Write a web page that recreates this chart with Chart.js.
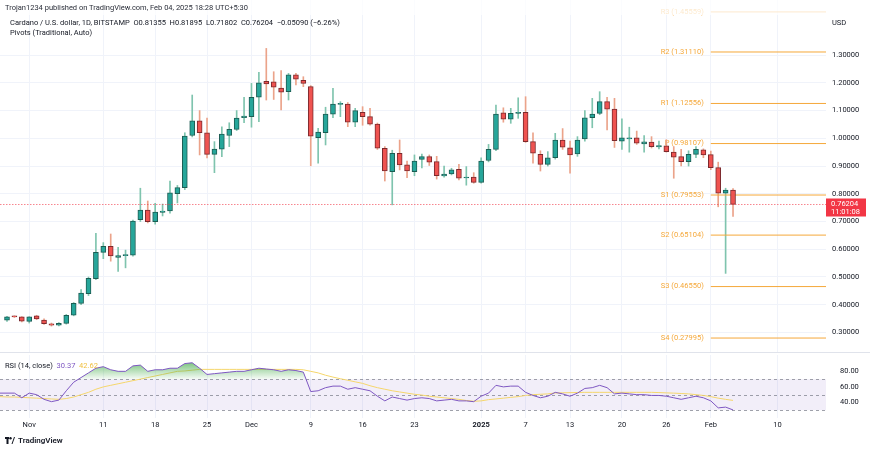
<!DOCTYPE html>
<html>
<head>
<meta charset="utf-8">
<script src="https://cdn.jsdelivr.net/npm/chart.js@4.4.1/dist/chart.umd.min.js"></script>
<style>
  html, body { margin: 0; padding: 0; background: #fff; }
  body { width: 870px; height: 451px; position: relative; overflow: hidden;
         font-family: Roboto, "Noto Sans", sans-serif; color: #131722; }
  canvas { position: absolute; left: 0; }
  #mainChart { top: 0; }
  #rsiChart { top: 352px; }
  .txt { position: absolute; white-space: nowrap; font-size: 7.5px; line-height: 9px; }
  #sep { position: absolute; left: 0; top: 352px; width: 870px; height: 1px; background: #e0e3eb; }
  #veil { position: absolute; left: 0; top: 0; width: 870px; height: 15px; background: rgba(255,255,255,0.75); }
  #logo { position: absolute; left: 5px; top: 436px; font-size: 8px; font-weight: 600; display: flex; align-items: center; gap: 3px; }
</style>
</head>
<body>
<canvas id="mainChart" width="870" height="352"></canvas>
<canvas id="rsiChart" width="870" height="84"></canvas>
<div id="sep"></div>
<div id="veil"></div>

<div class="txt" style="left:5px; top:3px; color:#2a2e39;">Trojan1234 published on TradingView.com, Feb 04, 2025 18:28 UTC+5:30</div>
<div class="txt" style="left:10px; top:18px;">Cardano / U.S. dollar, 1D, BITSTAMP&nbsp; O0.81355&nbsp; H0.81895&nbsp; L0.71802&nbsp; C0.76204&nbsp; −0.05090 (−6.26%)</div>
<div class="txt" style="left:10px; top:28px;">Pivots (Traditional, Auto)</div>
<div class="txt" style="left:832px; top:18px;">USD</div>
<div class="txt" style="left:5px; top:361px;">RSI (14, close)&nbsp; <span style="color:#7e57c2">30.37</span>&nbsp; <span style="color:#f0c040">42.62</span></div>
<div id="logo"><svg width="10" height="7" viewBox="0 0 10 7"><rect x="0" y="0" width="4" height="2" fill="#131722"/><rect x="1.5" y="0" width="2" height="7" fill="#131722"/><circle cx="5.5" cy="1.2" r="1.2" fill="#131722"/><path d="M6.5 7 L9 0 L10 0 L7.5 7 Z" fill="#131722"/></svg>TradingView</div>

<script>
// daily candles, Oct 29 2024 .. Feb 04 2025 (index 0 = Oct 29)
const opens  = [0.344,0.358,0.356,0.340,0.360,0.345,0.331,0.326,0.333,0.362,
                0.405,0.440,0.494,0.589,0.611,0.571,0.577,0.579,0.707,0.741,
                0.699,0.733,0.738,0.800,0.822,1.010,1.063,1.020,0.942,0.961,
                1.010,1.032,1.074,1.078,1.148,1.205,1.204,1.181,1.168,1.229,
                1.209,1.186,1.002,1.020,1.087,1.122,1.123,1.058,1.094,1.078,
                1.051,0.964,0.880,0.946,0.904,0.880,0.924,0.934,0.916,0.864,
                0.872,0.888,0.857,0.860,0.841,0.920,0.960,1.092,1.069,1.090,
                1.094,0.988,0.942,0.906,0.930,0.994,0.966,0.944,0.998,1.074,
                1.090,1.132,1.105,0.990,0.998,1.002,0.980,0.986,0.969,0.973,
                0.950,0.934,0.916,0.942,0.958,0.941,0.894,0.802,0.81355];
const highs  = [0.358,0.360,0.357,0.357,0.362,0.349,0.334,0.336,0.365,0.408,
                0.455,0.500,0.657,0.624,0.655,0.607,0.597,0.705,0.820,0.774,
                0.766,0.763,0.846,0.830,1.020,1.156,1.100,1.073,0.988,1.041,
                1.056,1.100,1.148,1.198,1.238,1.324,1.240,1.244,1.234,1.234,
                1.222,1.190,1.036,1.112,1.180,1.132,1.129,1.108,1.114,1.108,
                1.055,0.970,0.957,0.994,0.918,0.940,0.943,0.940,0.935,0.900,
                0.892,0.906,0.898,0.876,0.930,0.978,1.120,1.110,1.108,1.146,
                1.150,1.020,0.955,0.952,1.018,1.035,0.990,1.006,1.100,1.144,
                1.168,1.148,1.144,1.070,1.040,1.026,1.010,1.006,0.990,0.995,
                0.970,0.960,0.955,0.970,0.962,0.954,0.914,0.820,0.81895];
const lows   = [0.340,0.354,0.338,0.334,0.346,0.329,0.323,0.324,0.330,0.360,
                0.400,0.433,0.490,0.566,0.557,0.520,0.533,0.575,0.700,0.695,
                0.690,0.720,0.730,0.767,0.815,1.005,0.940,0.929,0.876,0.934,
                0.970,1.028,1.056,1.040,1.060,1.138,1.140,1.102,1.138,1.192,
                1.186,0.901,0.910,0.976,1.074,1.078,1.042,1.042,1.047,1.047,
                0.960,0.846,0.760,0.886,0.858,0.865,0.893,0.902,0.853,0.860,
                0.868,0.850,0.831,0.838,0.838,0.915,0.955,1.058,1.054,1.072,
                0.985,0.910,0.882,0.900,0.925,0.960,0.874,0.935,0.990,1.038,
                1.085,1.030,0.967,0.960,0.950,0.978,0.950,0.965,0.962,0.950,
                0.856,0.900,0.900,0.930,0.930,0.887,0.753,0.513,0.71802];
const closes = [0.356,0.356,0.341,0.356,0.349,0.332,0.326,0.333,0.362,0.405,
                0.442,0.495,0.589,0.611,0.576,0.577,0.579,0.702,0.741,0.699,
                0.734,0.738,0.803,0.822,1.008,1.063,1.020,0.942,0.961,1.015,
                1.032,1.073,1.080,1.148,1.200,1.196,1.184,1.166,1.229,1.213,
                1.198,1.008,1.022,1.087,1.123,1.124,1.058,1.100,1.078,1.051,
                0.964,0.882,0.946,0.904,0.882,0.918,0.934,0.914,0.865,0.871,
                0.886,0.856,0.860,0.841,0.918,0.960,1.087,1.069,1.090,1.094,
                0.988,0.946,0.906,0.930,0.994,0.968,0.940,0.994,1.074,1.087,
                1.132,1.105,0.991,1.002,1.002,0.982,0.987,0.970,0.974,0.952,
                0.932,0.916,0.942,0.960,0.940,0.894,0.802,0.8136,0.76204];

// RSI(14) and its moving average, index -1 = Oct 28
const rsiStart = -1;
const rsiValues = [52,52,52,46,52,50,44,41,43,55,66,72,78,84,86,82,80,80,87,88,
                   80,82,82,84,84,90,91,84,76,77,78,79,80,80,82,84,83,82,80,82,
                   81,79,54,55,59,61,61,57,59,57,55,48,42,47,45,43,45,46,45,42,
                   43,44,42,42,41,48,52,62,60,61,61,53,49,46,48,53,51,48,52,58,
                   59,62,59,51,52,51,50,50,49,49,48,46,44,46,48,46,42,33,34,30.37];
const rsiMA = [47.5,47,47,46.5,46,45.5,45,44.5,44,45,47,50,53,57,60,62,64,66,68,70,
               72,74,76,78,80,80.5,81.5,82.5,82.5,82.5,82.5,82.5,82.5,82.5,82.5,82.5,82.5,82.5,82.5,82.5,
               82.5,82,80,78,75,72.6,70.5,68.5,66.5,64.5,61.5,59,57,55,53.5,52,50.5,49.5,48,47,
               46,45,44,42.5,41.5,42,43.6,44.5,45.5,46.5,47.5,49,50,50.5,51,52.2,52.4,52.6,52.8,53,
               53,53,53,53,53,53,53,53,53,52.7,52.3,52,51.5,51,50,49,47.5,45.5,44,42.62];

// x-axis ticks (day index) and their labels
const tickDays   = [3, 13, 20, 27, 33, 41, 48, 55, 64, 70, 76, 83, 89, 95, 104];
const tickLabels = ['Nov','11','18','25','Dec','9','16','23','2025','7','13','20','26','Feb','10'];
const priceTicks = [0.3,0.4,0.5,0.6,0.7,0.8,0.9,1.0,1.1,1.2,1.3];
const rsiTicks = [40, 60, 80];

// monthly pivots (Traditional), drawn from Feb 1
const pivotNames  = ['R3','R2','R1','P','S1','S2','S3','S4'];
const pivotValues = [1.45559,1.31110,1.12556,0.98107,0.79553,0.65104,0.46550,0.27995];
const pivotStart = 95;

const lastPrice = 0.76204;
const lastTime = '11:01:08';

const X_MIN = -0.945, X_MAX = 110.55;
const UP = '#26a69a', DOWN = '#ef5350';
const FONT = 'Roboto, "Noto Sans", sans-serif';
const GRID = '#f0f3fa';
const PIVOT = '#f5a83a';

function isUp(i) { return closes[i] >= opens[i]; }

function noPad(s) {
  s.paddingTop = 0; s.paddingBottom = 0; s.paddingLeft = 0; s.paddingRight = 0;
}

const pivotLabels = {
  id: 'pivotLabels',
  beforeDatasetsDraw(chart) {
    const {ctx, scales: {x, y}} = chart;
    ctx.save();
    ctx.font = '7.5px ' + FONT;
    ctx.fillStyle = PIVOT;
    ctx.textAlign = 'right';
    ctx.textBaseline = 'middle';
    pivotNames.forEach((n, i) => {
      ctx.fillText(n + ' (' + pivotValues[i].toFixed(5) + ')', x.getPixelForValue(pivotStart) - 7, y.getPixelForValue(pivotValues[i]));
    });
    ctx.restore();
  }
};

const priceLine = {
  id: 'priceLine',
  afterDatasetsDraw(chart) {
    const {ctx, chartArea, scales: {y}} = chart;
    const py = Math.round(y.getPixelForValue(lastPrice)) + 0.5;
    ctx.save();
    ctx.strokeStyle = 'rgba(242,54,69,0.6)';
    ctx.setLineDash([1.5, 1.5]);
    ctx.lineWidth = 1;
    ctx.beginPath();
    ctx.moveTo(chartArea.left, py);
    ctx.lineTo(chartArea.right, py);
    ctx.stroke();
    ctx.setLineDash([]);
    ctx.fillStyle = '#f23645';
    ctx.fillRect(chartArea.right, py - 6, 40, 18);
    ctx.fillStyle = '#fff';
    ctx.font = '7.5px ' + FONT;
    ctx.textAlign = 'left';
    ctx.textBaseline = 'middle';
    ctx.fillText(lastPrice.toFixed(5), chartArea.right + 5, py);
    ctx.fillText(lastTime, chartArea.right + 5, py + 8);
    ctx.restore();
  }
};

const candleWicks = {
  type: 'bar',
  data: lows.map((l, i) => ({x: i, y: [l, highs[i]]})),
  backgroundColor: ctx => isUp(ctx.dataIndex) ? '#7fc4ae' : '#eba38a',
  barThickness: 1,
  grouped: false,
  order: 3
};
const candleBodies = {
  type: 'bar',
  data: opens.map((o, i) => ({x: i, y: [o, closes[i]]})),
  backgroundColor: ctx => isUp(ctx.dataIndex) ? UP : DOWN,
  borderColor: ctx => isUp(ctx.dataIndex) ? '#1d5d53' : '#7a2a2e',
  borderWidth: 1,
  borderSkipped: false,
  barThickness: 5,
  minBarLength: 1,
  grouped: false,
  order: 1
};
const pivotSets = pivotValues.map(v => ({
  type: 'line',
  data: [{x: pivotStart, y: v}, {x: X_MAX, y: v}],
  borderColor: PIVOT,
  borderWidth: 1,
  pointRadius: 0,
  order: 2
}));

new Chart(document.getElementById('mainChart'), {
  type: 'bar',
  data: { datasets: [candleWicks, candleBodies, ...pivotSets] },
  options: {
    responsive: false,
    animation: false,
    layout: { padding: 0 },
    plugins: { legend: { display: false }, tooltip: { enabled: false } },
    scales: {
      x: {
        type: 'linear', min: X_MIN, max: X_MAX, offset: false,
        afterBuildTicks: s => { s.ticks = tickDays.map(v => ({value: v})); },
        ticks: { display: false },
        grid: { color: GRID, drawTicks: false, offset: false },
        border: { display: false },
        afterFit: s => { s.height = 0; noPad(s); }
      },
      y: {
        position: 'right', min: 0.22962, max: 1.49855,
        afterBuildTicks: s => { s.ticks = priceTicks.map(v => ({value: v})); },
        ticks: { callback: v => v.toFixed(5), font: { size: 7.5, family: FONT }, color: '#131722', padding: 6 },
        grid: { color: GRID, drawTicks: false },
        border: { display: false },
        afterFit: s => { s.width = 44; noPad(s); }
      }
    }
  },
  plugins: [pivotLabels, priceLine]
});

const rsiBand = {
  id: 'rsiBand',
  beforeDatasetsDraw(chart) {
    const {ctx, chartArea, scales: {y}} = chart;
    const y70 = y.getPixelForValue(70), y50 = y.getPixelForValue(50), y30 = y.getPixelForValue(30);
    ctx.save();
    ctx.fillStyle = 'rgba(126,87,194,0.1)';
    ctx.fillRect(chartArea.left, y70, chartArea.right - chartArea.left, y30 - y70);
    ctx.strokeStyle = 'rgba(120,123,134,0.7)';
    ctx.setLineDash([3, 3]);
    ctx.lineWidth = 1;
    [y70, y50, y30].forEach(py => {
      ctx.beginPath();
      ctx.moveTo(chartArea.left, Math.round(py) + 0.5);
      ctx.lineTo(chartArea.right, Math.round(py) + 0.5);
      ctx.stroke();
    });
    ctx.restore();
  }
};

new Chart(document.getElementById('rsiChart'), {
  type: 'line',
  data: {
    datasets: [
      {
        data: rsiValues.map((v, i) => ({x: i + rsiStart, y: v})),
        borderColor: '#7e57c2',
        borderWidth: 1,
        pointRadius: 0,
        fill: { target: { value: 70 }, below: 'rgba(0,0,0,0)' },
        backgroundColor: ctx => {
          const {chart} = ctx;
          if (!chart.chartArea) return 'rgba(76,175,80,0.3)';
          const y = chart.scales.y;
          const g = chart.ctx.createLinearGradient(0, y.getPixelForValue(92), 0, y.getPixelForValue(70));
          g.addColorStop(0, 'rgba(76,175,80,0.75)');
          g.addColorStop(1, 'rgba(76,175,80,0.05)');
          return g;
        },
        order: 1
      },
      {
        data: rsiMA.map((v, i) => ({x: i + rsiStart, y: v})),
        borderColor: '#f5d66b',
        borderWidth: 1,
        pointRadius: 0,
        fill: false,
        order: 2
      }
    ]
  },
  options: {
    responsive: false,
    animation: false,
    layout: { padding: { top: 3 } },
    plugins: { legend: { display: false }, tooltip: { enabled: false } },
    scales: {
      x: {
        type: 'linear', min: X_MIN, max: X_MAX,
        afterBuildTicks: s => { s.ticks = tickDays.map(v => ({value: v})); },
        ticks: {
          callback: (v, i) => tickLabels[i],
          autoSkip: false, maxRotation: 0, padding: 3, color: '#131722',
          font: ctx => ({ size: 7.5, family: FONT, weight: tickLabels[ctx.index] === '2025' ? 'bold' : 'normal' })
        },
        grid: { color: GRID, drawTicks: false },
        border: { display: false },
        afterFit: s => { s.height = 18; noPad(s); }
      },
      y: {
        position: 'right', min: 20, max: 101,
        afterBuildTicks: s => { s.ticks = rsiTicks.map(v => ({value: v})); },
        ticks: { callback: v => v.toFixed(2), font: { size: 7.5, family: FONT }, color: '#131722', padding: 6 },
        grid: { display: false },
        border: { display: false },
        afterFit: s => { s.width = 44; noPad(s); }
      }
    }
  },
  plugins: [rsiBand]
});
</script>
</body>
</html>
